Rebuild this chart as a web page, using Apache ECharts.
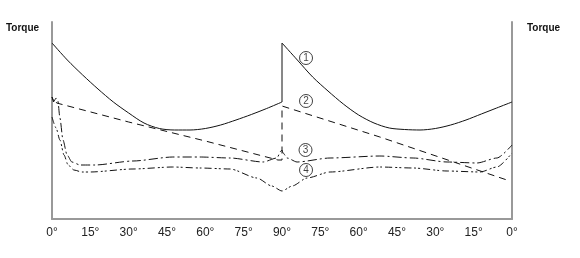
<!DOCTYPE html>
<html><head><meta charset="utf-8">
<script src="https://cdn.jsdelivr.net/npm/echarts@6/dist/echarts.min.js"></script>
<style>html,body{margin:0;padding:0;background:#fff}#c{width:580px;height:258px}</style>
</head><body><div id="c"></div>
<script>
// x: angle path 0..90..0 mapped to 0..180, y: torque (arbitrary units)
const xTicks = [0, 15, 30, 45, 60, 75, 90, 75, 60, 45, 30, 15, 0];
const curve1Left = [[0,176],[6,159],[12,144],[18,130],[24,117],[30,106],[36,96],[42,90.5],[48,89],[54,89],[60,90.5],[66,94],[72,99],[78,104.5],[84,110.5],[90,117]];
const curve1Jump = [[90,117],[90,176]];
const curve1Right = [[90,176],[96,159],[102,142],[108,128],[114,115],[120,104],[126,96],[132,91],[138,89.5],[144,89],[150,90.5],[156,94],[162,99],[168,105],[174,111],[180,117]];
const curve2 = [[0,122],[0.6,117],[1.2,120],[1.8,116],[2.3,115],[30,97],[60,78],[88.4,59],[90,59],[90,113],[128.3,82],[178,39]];
const curve3 = [[0,122],[0.8,118],[1.6,121],[2.3,118],[3.1,101],[4.3,79],[5.9,64],[7.8,57],[11,54],[16.8,54],[31.7,58],[47.3,62],[57.9,62],[69.7,61],[82.6,57],[88,61],[89.6,68],[90,69],[90.4,66],[92,61],[95.9,57],[108.8,61],[128.3,63],[141.3,61],[154.6,57],[166.3,56],[174.1,61],[180,74]];
const curve4 = [[0,102],[1.6,91],[3.1,79],[4.7,64],[6.3,54],[8.6,49],[11.7,47],[14.9,47],[31.7,50],[47.3,52],[57.9,51],[69.7,50],[80.2,41],[86,33],[90,28],[94,33],[99.8,41],[108.8,47],[128.3,52],[141.3,51],[154.6,48],[167.5,47],[174.1,52],[180,66]];
const markers = [[99.4,161,'1'],[99.4,118,'2'],[99.2,69,'3'],[99.4,49,'4']];

const chart = echarts.init(document.getElementById('c'), null, {renderer:'canvas'});
const line = (data, type, smooth, mono) => {
  const s = {type:'line', data, symbol:'none', smooth: smooth, animation:false,
    lineStyle:{color:'#111', width:1, type}};
  if (mono) s.smoothMonotone = 'x';
  return s;
};
chart.setOption({
  animation:false,
  grid:{left:52, right:68, top:22, bottom:39},
  xAxis:{type:'value', min:0, max:180, interval:15,
    axisLine:{show:true, lineStyle:{color:'#999', width:2}},
    axisTick:{show:false}, splitLine:{show:false},
    axisLabel:{color:'#222', fontSize:12, fontFamily:'Liberation Sans', margin:8,
      formatter:(v)=>{const i=Math.round(v/15);return xTicks[i]+'°';}}},
  yAxis:[
    {type:'value', min:0, max:197, position:'left',
      axisLine:{show:true, lineStyle:{color:'#999', width:2}}, axisTick:{show:false},
      axisLabel:{show:false}, splitLine:{show:false}},
    {type:'value', min:0, max:197, position:'right',
      axisLine:{show:true, lineStyle:{color:'#999', width:2}}, axisTick:{show:false},
      axisLabel:{show:false}, splitLine:{show:false}}
  ],
  graphic:[
    {type:'text', left:6, top:23, style:{text:'Torque', font:'bold 10px Liberation Sans', fill:'#111'}},
    {type:'text', left:527, top:23, style:{text:'Torque', font:'bold 10px Liberation Sans', fill:'#111'}}
  ],
  series:[
    line(curve1Left,'solid',0.3,false),
    line(curve1Jump,'solid',false,false),
    line(curve1Right,'solid',0.3,false),
    line(curve2,[7,5],false,false),
    line(curve3,[9,3,2,3],0.25,true),
    line(curve4,[7,3,2,2,2,3],0.25,true),
    {type:'scatter', data:markers.map(m=>({value:[m[0],m[1]], label:{formatter:m[2]}})),
      symbol:'circle', symbolSize:13,
      itemStyle:{color:'#fff', borderColor:'#111', borderWidth:1},
      label:{show:true, position:'inside', color:'#111', fontSize:10, fontFamily:'Liberation Sans'}}
  ]
});
</script></body></html>
